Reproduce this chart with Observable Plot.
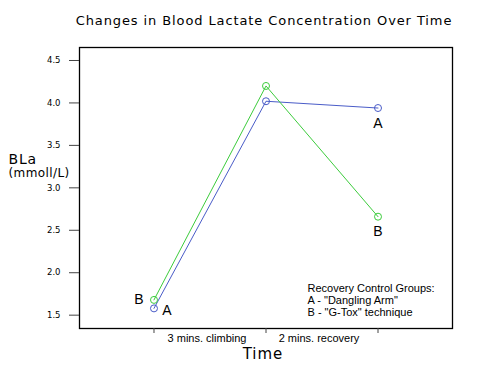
<!DOCTYPE html>
<html>
<head>
<meta charset="utf-8">
<script src="https://cdn.jsdelivr.net/npm/d3@7"></script>
<script src="https://cdn.jsdelivr.net/npm/@observablehq/plot@0.6"></script>
<style>
  html, body { margin: 0; padding: 0; background: #fff; }
</style>
</head>
<body>
<div id="chart"></div>
<script>
// Measurement stages (index positions along x)
const stages = [0, 1, 2];
// Group A - "Dangling Arm" (blue)
const groupA = [1.58, 4.02, 3.94];
// Group B - "G-Tox" technique (green)
const groupB = [1.68, 4.20, 2.66];
// Interval labels between stage ticks
const intervalPos = [0.5, 1.5];
const intervalLabels = ["3 mins. climbing", "2 mins. recovery"];
// Y tick values
const yTicks = [1.5, 2.0, 2.5, 3.0, 3.5, 4.0, 4.5];

const colorA = "#4a5cc8";
const colorB = "#3ccc3c";

const rows = [];
stages.forEach((s, i) => {
  rows.push({stage: s, value: groupA[i], group: "A"});
  rows.push({stage: s, value: groupB[i], group: "B"});
});
const rowsA = rows.filter(d => d.group === "A");
const rowsB = rows.filter(d => d.group === "B");
const first = i => rows.filter(d => d.stage === stages[i]);

const font = "DejaVu Sans, Verdana, sans-serif";
const arial = "Liberation Sans, Arial, sans-serif";

const chart = Plot.plot({
  width: 504,
  height: 374,
  marginLeft: 79,
  marginRight: 52,
  marginTop: 47,
  marginBottom: 46,
  style: {background: "#fff", fontFamily: arial},
  x: {domain: [-0.665, 2.665], axis: null},
  y: {domain: [1.343, 4.653], axis: null},
  marks: [
    Plot.frame({stroke: "#000", strokeWidth: 1.3}),
    Plot.axisY({ticks: yTicks, tickSize: 10, tickPadding: 9, tickFormat: d3.format(".1f"),
      fontSize: 8.5, fontFamily: font, label: null, stroke: "#444"}),
    Plot.axisX({ticks: stages, tickSize: 5, tickFormat: () => "", label: null, stroke: "#444"}),
    Plot.axisX({ticks: intervalPos, tickSize: 0, tickPadding: 6, label: null,
      tickFormat: (d, i) => intervalLabels[intervalPos.indexOf(d)], fontSize: 11, fontFamily: arial, dx: -3}),
    Plot.line(rowsA, {x: "stage", y: "value", stroke: colorA, strokeWidth: 1}),
    Plot.line(rowsB, {x: "stage", y: "value", stroke: colorB, strokeWidth: 1}),
    Plot.dot(rowsA, {x: "stage", y: "value", stroke: colorA, fill: "none", r: 3.5, strokeWidth: 1}),
    Plot.dot(rowsB, {x: "stage", y: "value", stroke: colorB, fill: "none", r: 3.5, strokeWidth: 1}),
    // point labels
    Plot.text(first(0).filter(d => d.group === "B"), {x: "stage", y: "value", text: "group", dx: -15, fontSize: 14, fontFamily: arial, fill: "#000"}),
    Plot.text(first(0).filter(d => d.group === "A"), {x: "stage", y: "value", text: "group", dx: 13, dy: 2, fontSize: 14, fontFamily: arial, fill: "#000"}),
    Plot.text(first(2), {x: "stage", y: "value", text: "group", dy: 15, fontSize: 14, fontFamily: arial, fill: "#000"}),
    // legend note
    Plot.text(["Recovery Control Groups:\nA - \"Dangling Arm\"\nB - \"G-Tox\" technique"], {
      frameAnchor: "bottom-left", dx: 228, dy: -28, textAnchor: "start", lineAnchor: "middle",
      lineHeight: 1.1, fontSize: 11, fontFamily: arial, fill: "#000"}),
    // title
    Plot.text(["Changes in Blood Lactate Concentration Over Time"], {
      frameAnchor: "top", dy: -27, dx: -2, fontSize: 13, fontFamily: font, fill: "#000", lineAnchor: "middle"}),
    // y axis title
    Plot.text(["BLa"], {frameAnchor: "left", dx: -71, dy: -28.5, textAnchor: "start", fontSize: 14, fontFamily: font, fill: "#000"}),
    Plot.text(["(mmoll/L)"], {frameAnchor: "left", dx: -71, dy: -15, textAnchor: "start", fontSize: 12, fontFamily: font, fill: "#000"}),
    // x axis title
    Plot.text(["Time"], {frameAnchor: "bottom", dy: 30, dx: -3, fontSize: 15, fontFamily: font, fill: "#000"})
  ]
});
chart.querySelectorAll("text").forEach(t => {
  const s = t.textContent;
  if (s.startsWith("Changes")) t.setAttribute("letter-spacing", "0.9");
  if (s === "BLa") t.setAttribute("letter-spacing", "0.8");
  if (s === "(mmoll/L)") t.setAttribute("letter-spacing", "0.4");
  if (s === "Time") t.setAttribute("letter-spacing", "1");
});
document.getElementById("chart").appendChild(chart);
</script>
</body>
</html>
